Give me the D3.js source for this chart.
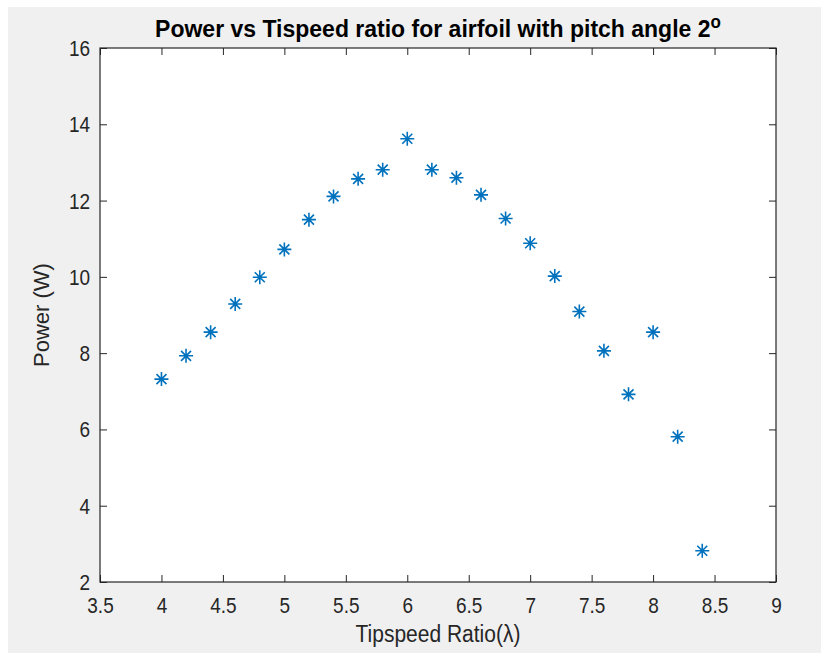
<!DOCTYPE html>
<html>
<head>
<meta charset="utf-8">
<script src="https://cdn.jsdelivr.net/npm/d3@7"></script>
<style>
  body { margin: 0; background: #fff; }
  text { font-family: "Liberation Sans", Arial, sans-serif; fill: #262626; }
</style>
</head>
<body>
<div id="chart"></div>
<script>
// tip speed ratio and power
const tipspeed = [4.0, 4.2, 4.4, 4.6, 4.8, 5.0, 5.2, 5.4, 5.6, 5.8, 6.0,
                  6.2, 6.4, 6.6, 6.8, 7.0, 7.2, 7.4, 7.6, 7.8, 8.0, 8.2, 8.4];
const power = [7.32, 7.93, 8.55, 9.29, 9.99, 10.72, 11.50, 12.11, 12.57, 12.81, 13.62,
               12.81, 12.60, 12.15, 11.53, 10.88, 10.02, 9.09, 8.06, 6.92, 8.55, 5.81, 2.82];
const xTicks = [3.5, 4, 4.5, 5, 5.5, 6, 6.5, 7, 7.5, 8, 8.5, 9];
const yTicks = [2, 4, 6, 8, 10, 12, 14, 16];

const W = 821, H = 653;
const plot = {left: 100, right: 776, top: 48, bottom: 582};
const stretch = 1.12;   // screenshot text looks a bit taller than wide

const svg = d3.select("#chart")
    .append("svg")
    .attr("width", W)
    .attr("height", H);

// figure background (white strip on top/left like the screenshot)
svg.append("rect")
    .attr("x", 8).attr("y", 7)
    .attr("width", W - 8).attr("height", H - 7)
    .attr("fill", "#f0f0f0");

const x = d3.scaleLinear().domain([3.5, 9]).range([plot.left, plot.right]);
const y = d3.scaleLinear().domain([2, 16]).range([plot.bottom, plot.top]);

svg.append("rect")
    .attr("x", plot.left).attr("y", plot.top)
    .attr("width", plot.right - plot.left)
    .attr("height", plot.bottom - plot.top)
    .attr("fill", "#fff");

const tickLen = 7;
const fmt = d => d3.format("")(d);

// bottom axis
svg.append("g")
    .attr("transform", `translate(0,${plot.bottom})`)
    .call(d3.axisBottom(x).tickValues(xTicks).tickSizeInner(-tickLen).tickSizeOuter(0).tickFormat(fmt))
    .call(g => g.select(".domain").remove())
    .call(g => g.selectAll("line").attr("stroke", "#262626"))
    .call(g => g.selectAll("text")
        .attr("font-size", 19).attr("fill", "#262626").attr("font-family", null)
        .attr("y", 0).attr("dy", null)
        .attr("transform", `translate(0,31) scale(1,${stretch})`));

// top axis ticks (no labels)
svg.append("g")
    .attr("transform", `translate(0,${plot.top})`)
    .call(d3.axisTop(x).tickValues(xTicks).tickSizeInner(-tickLen).tickSizeOuter(0).tickFormat(""))
    .call(g => g.select(".domain").remove())
    .call(g => g.selectAll("line").attr("stroke", "#262626"));

// left axis
svg.append("g")
    .attr("transform", `translate(${plot.left},0)`)
    .call(d3.axisLeft(y).tickValues(yTicks).tickSizeInner(-tickLen).tickSizeOuter(0).tickFormat(fmt))
    .call(g => g.select(".domain").remove())
    .call(g => g.selectAll("line").attr("stroke", "#262626"))
    .call(g => g.selectAll("text")
        .attr("font-size", 19).attr("fill", "#262626").attr("font-family", null)
        .attr("x", -10).attr("y", 0).attr("dy", null)
        .attr("transform", `translate(0,7.5) scale(1,${stretch})`));

// right axis ticks
svg.append("g")
    .attr("transform", `translate(${plot.right},0)`)
    .call(d3.axisRight(y).tickValues(yTicks).tickSizeInner(-tickLen).tickSizeOuter(0).tickFormat(""))
    .call(g => g.select(".domain").remove())
    .call(g => g.selectAll("line").attr("stroke", "#262626"));

// box
svg.append("rect")
    .attr("x", plot.left).attr("y", plot.top)
    .attr("width", plot.right - plot.left)
    .attr("height", plot.bottom - plot.top)
    .attr("fill", "none")
    .attr("stroke", "#262626")
    .attr("stroke-width", 1.2);

// asterisk markers
const data = tipspeed.map((t, i) => ({t: t, p: power[i]}));
const r = 7, rd = 5;
const star = `M${-r},0H${r}M0,${-r}V${r}M${-rd},${-rd}L${rd},${rd}M${-rd},${rd}L${rd},${-rd}`;

svg.append("g").selectAll("path")
    .data(data)
    .enter()
    .append("path")
    .attr("transform", d => `translate(${x(d.t)},${y(d.p)})`)
    .attr("d", star)
    .attr("stroke", "#0072BD")
    .attr("stroke-width", 1.6)
    .attr("fill", "none");

// title
const title = svg.append("text")
    .attr("transform", `translate(${(plot.left + plot.right) / 2},37) scale(1,1.05)`)
    .attr("text-anchor", "middle")
    .attr("font-size", 23)
    .attr("font-weight", "bold")
    .style("fill", "#000");
title.append("tspan").text("Power vs Tispeed ratio for airfoil with pitch angle 2");
title.append("tspan").attr("dy", -9).attr("font-size", 17).text("o");

// axis labels
svg.append("text")
    .attr("transform", `translate(${(plot.left + plot.right) / 2},642) scale(1,${stretch})`)
    .attr("text-anchor", "middle")
    .attr("font-size", 21)
    .text("Tipspeed Ratio(λ)");

svg.append("text")
    .attr("transform", `translate(49,${(plot.top + plot.bottom) / 2}) rotate(-90)`)
    .attr("text-anchor", "middle")
    .attr("font-size", 22)
    .text("Power (W)");
</script>
</body>
</html>
